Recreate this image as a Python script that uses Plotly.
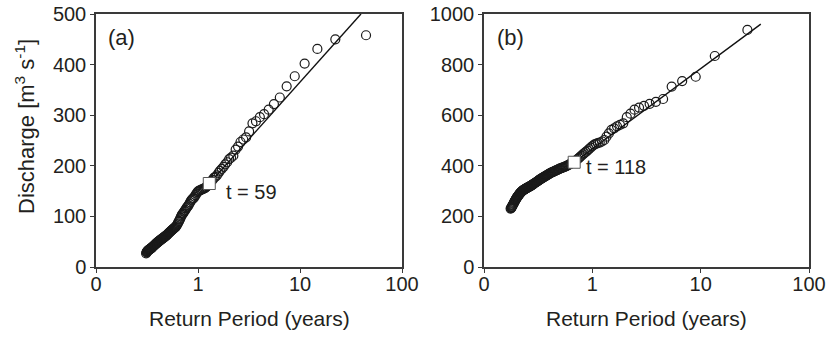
import plotly.graph_objects as go

# ---------------- Panel (a) ----------------
# Return periods (years) of the ranked peaks and their discharges (m3/s)
period_a = [44.4, 22.2, 14.8, 11.1, 8.88, 7.40, 6.34, 5.55, 4.93, 4.44,
            4.04, 3.70, 3.42, 3.17, 2.96, 2.78, 2.61, 2.47, 2.34, 2.22,
            2.11, 2.02, 1.93, 1.85, 1.78, 1.71, 1.64, 1.59, 1.53, 1.48,
            1.43, 1.39, 1.35, 1.31, 1.27, 1.23, 1.20, 1.17, 1.14, 1.11,
            1.08, 1.06, 1.03, 1.01, 0.987, 0.965, 0.945, 0.925, 0.906, 0.888,
            0.871, 0.854, 0.838, 0.822, 0.807, 0.793, 0.779, 0.766, 0.753, 0.740,
            0.728, 0.716, 0.705, 0.694, 0.683, 0.673, 0.663, 0.653, 0.643, 0.634,
            0.625, 0.617, 0.608, 0.600, 0.592, 0.584, 0.577, 0.569, 0.562, 0.555,
            0.548, 0.541, 0.535, 0.529, 0.522, 0.516, 0.510, 0.505, 0.499, 0.493,
            0.488, 0.483, 0.477, 0.472, 0.467, 0.463, 0.458, 0.453, 0.448, 0.444,
            0.440, 0.435, 0.431, 0.427, 0.423, 0.419, 0.415, 0.411, 0.407, 0.404,
            0.400, 0.396, 0.393, 0.389, 0.386, 0.383, 0.379, 0.376, 0.373, 0.370,
            0.367, 0.364, 0.361, 0.358, 0.355, 0.352, 0.350, 0.347, 0.344, 0.342,
            0.339, 0.336, 0.334, 0.331, 0.329, 0.326, 0.324, 0.322, 0.319, 0.317,
            0.315, 0.313, 0.310]
flow_a = [458, 450, 431, 402, 377, 357, 335, 322, 311, 302,
          296, 288, 284, 268, 256, 252, 247, 238, 232, 220,
          216, 213, 207, 203, 198, 194, 190, 186, 181, 178,
          176, 172, 170, 168, 162, 160, 158, 156, 155, 154,
          153, 152, 151, 150, 148, 145, 142, 139, 136, 135,
          133, 131, 128, 125, 122, 120, 118, 116, 113, 111,
          109, 106, 105, 103, 100, 97, 94, 91, 89, 86,
          84, 82, 80, 79, 78, 77, 76, 75, 74, 73,
          72, 71, 70, 69, 68, 67, 66, 65, 64, 63,
          62, 61, 61, 60, 59, 58, 58, 57, 56, 56,
          55, 54, 54, 53, 52, 52, 51, 50, 50, 49,
          48, 48, 47, 46, 46, 45, 44, 44, 43, 42,
          42, 41, 40, 40, 39, 38, 38, 37, 37, 36,
          36, 35, 35, 34, 34, 33, 33, 32, 31, 31,
          30, 29, 27]
fit_period_a = [1.29, 39.6]
fit_flow_a = [165, 500]
thresh_period_a = [1.29]
thresh_flow_a = [165]

# ---------------- Panel (b) ----------------
period_b = [27.0, 13.5, 9.00, 6.75, 5.40, 4.50, 3.86, 3.38, 3.00, 2.70,
            2.45, 2.25, 2.08, 1.93, 1.80, 1.69, 1.59, 1.50, 1.42, 1.35,
            1.29, 1.23, 1.17, 1.125, 1.08, 1.04, 1.00, 0.964, 0.931, 0.900,
            0.871, 0.844, 0.818, 0.794, 0.771, 0.750, 0.730, 0.711, 0.692, 0.675,
            0.659, 0.643, 0.628, 0.614, 0.600, 0.587, 0.574, 0.5625, 0.551, 0.540,
            0.529, 0.519, 0.509, 0.500, 0.491, 0.482, 0.474, 0.466, 0.458, 0.450,
            0.443, 0.435, 0.429, 0.422, 0.415, 0.409, 0.403, 0.397, 0.391, 0.386,
            0.380, 0.375, 0.370, 0.365, 0.360, 0.355, 0.351, 0.346, 0.342, 0.3375,
            0.333, 0.329, 0.325, 0.321, 0.318, 0.314, 0.310, 0.307, 0.303, 0.300,
            0.297, 0.293, 0.290, 0.287, 0.284, 0.281, 0.278, 0.276, 0.273, 0.270,
            0.267, 0.265, 0.262, 0.260, 0.257, 0.255, 0.252, 0.250, 0.248, 0.245,
            0.243, 0.241, 0.239, 0.237, 0.235, 0.233, 0.231, 0.229, 0.227, 0.225,
            0.223, 0.221, 0.220, 0.218, 0.216, 0.214, 0.213, 0.211, 0.209, 0.208,
            0.206, 0.205, 0.203, 0.201, 0.200, 0.199, 0.197, 0.196, 0.194, 0.193,
            0.191, 0.190, 0.189, 0.1875, 0.186, 0.185, 0.184, 0.182, 0.181, 0.180,
            0.179, 0.178, 0.176]
flow_b = [937, 834, 752, 735, 713, 664, 653, 645, 637, 630,
          622, 606, 592, 568, 562, 556, 548, 542, 528, 515,
          502, 496, 492, 490, 487, 484, 478, 472, 466, 460,
          455, 450, 445, 440, 435, 430, 426, 422, 418, 414,
          412, 410, 408, 406, 403, 401, 399, 397, 396, 394,
          393, 391, 390, 389, 387, 385, 384, 382, 381, 379,
          378, 376, 375, 374, 372, 371, 369, 367, 366, 364,
          362, 361, 359, 358, 356, 355, 353, 352, 350, 349,
          347, 346, 344, 343, 341, 340, 338, 337, 335, 334,
          333, 331, 330, 329, 327, 326, 325, 324, 322, 321,
          320, 319, 318, 317, 316, 315, 314, 313, 312, 311,
          310, 309, 308, 307, 306, 305, 304, 303, 302, 300,
          299, 297, 296, 294, 293, 291, 289, 287, 285, 283,
          281, 279, 277, 275, 273, 271, 268, 266, 263, 261,
          258, 256, 253, 251, 249, 246, 244, 242, 239, 237,
          235, 233, 231]
fit_period_b = [0.68, 35.9]
fit_flow_b = [414, 960]
thresh_period_b = [0.68]
thresh_flow_b = [414]

x_tickvals = [0.1, 1, 10, 100]
x_ticktext = ["0", "1", "10", "100"]
y_ticks_a = [0, 100, 200, 300, 400, 500]
y_ticks_b = [0, 200, 400, 600, 800, 1000]

FONT = "Liberation Sans, Arial, sans-serif"
INK = "#231f20"
AXIS = "#3a3a3a"

fig = go.Figure()


def add_panel(fig, xa, ya, period, flow, fit_t, fit_q, th_t, th_q):
    fig.add_trace(go.Scatter(
        x=period, y=flow, mode="markers", xaxis=xa, yaxis=ya,
        marker=dict(symbol="circle-open", size=9, color="#1a1a1a",
                    line=dict(width=1.2, color="#1a1a1a")),
        showlegend=False, hoverinfo="x+y"))
    fig.add_trace(go.Scatter(
        x=fit_t, y=fit_q, mode="lines", xaxis=xa, yaxis=ya,
        line=dict(color="#111111", width=1.4), showlegend=False))
    fig.add_trace(go.Scatter(
        x=th_t, y=th_q, mode="markers", xaxis=xa, yaxis=ya,
        marker=dict(symbol="square", size=12, color="white",
                    line=dict(width=1, color="#555555")),
        showlegend=False))


add_panel(fig, "x", "y", period_a, flow_a, fit_period_a, fit_flow_a,
          thresh_period_a, thresh_flow_a)
add_panel(fig, "x2", "y2", period_b, flow_b, fit_period_b, fit_flow_b,
          thresh_period_b, thresh_flow_b)

W, H = 827, 344

xcommon = dict(type="log", range=[-1, 2], tickvals=x_tickvals, ticktext=x_ticktext,
               showgrid=False, zeroline=False, showline=True, mirror=True,
               linecolor=AXIS, linewidth=1.5, ticks="outside", ticklen=4,
               tickcolor=AXIS, tickwidth=1.2, automargin=False,
               ticklabelstandoff=-6,
               tickfont=dict(family=FONT, size=20, color=INK))
ycommon = dict(showgrid=False, zeroline=False, showline=True, mirror=True,
               linecolor=AXIS, linewidth=1.5, ticks="outside", ticklen=4,
               tickcolor=AXIS, tickwidth=1.2, automargin=False,
               tickfont=dict(family=FONT, size=20, color=INK))

y_dom = [(H - 267) / H, (H - 14) / H]

fig.update_layout(
    width=W, height=H,
    margin=dict(l=0, r=0, t=0, b=0),
    paper_bgcolor="white", plot_bgcolor="white",
    xaxis=dict(domain=[96 / W, 402 / W], anchor="y", **xcommon),
    yaxis=dict(domain=y_dom, anchor="x", range=[0, 500], tickvals=y_ticks_a, **ycommon),
    xaxis2=dict(domain=[484 / W, 809 / W], anchor="y2", **xcommon),
    yaxis2=dict(domain=y_dom, anchor="x2", range=[0, 1000], tickvals=y_ticks_b, **ycommon),
)

txt = dict(family=FONT, size=20, color=INK)
title_font = dict(family=FONT, size=21, color=INK)
annotations = [
    dict(text="(a)", x=106 / W, y=1 - 38 / H, xanchor="left", yanchor="middle",
         font=dict(family=FONT, size=22, color=INK)),
    dict(text="(b)", x=495 / W, y=1 - 38 / H, xanchor="left", yanchor="middle",
         font=dict(family=FONT, size=22, color=INK)),
    dict(text="t = 59", x=224 / W, y=1 - 192 / H, xanchor="left", yanchor="middle", font=txt),
    dict(text="t = 118", x=584 / W, y=1 - 167 / H, xanchor="left", yanchor="middle", font=txt),
    dict(text="Return Period (years)", x=249 / W, y=1 - 318 / H,
         xanchor="center", yanchor="middle", font=title_font),
    dict(text="Return Period (years)", x=646 / W, y=1 - 318 / H,
         xanchor="center", yanchor="middle", font=title_font),
    dict(text="Discharge [m<sup>3</sup> s<sup>-1</sup>]", x=25 / W, y=1 - 127 / H,
         xanchor="center", yanchor="middle", textangle=-90,
         font=dict(family=FONT, size=22, color=INK)),
]
for a in annotations:
    a.update(xref="paper", yref="paper", showarrow=False)
fig.update_layout(annotations=annotations)

fig.write_html("out.html")
